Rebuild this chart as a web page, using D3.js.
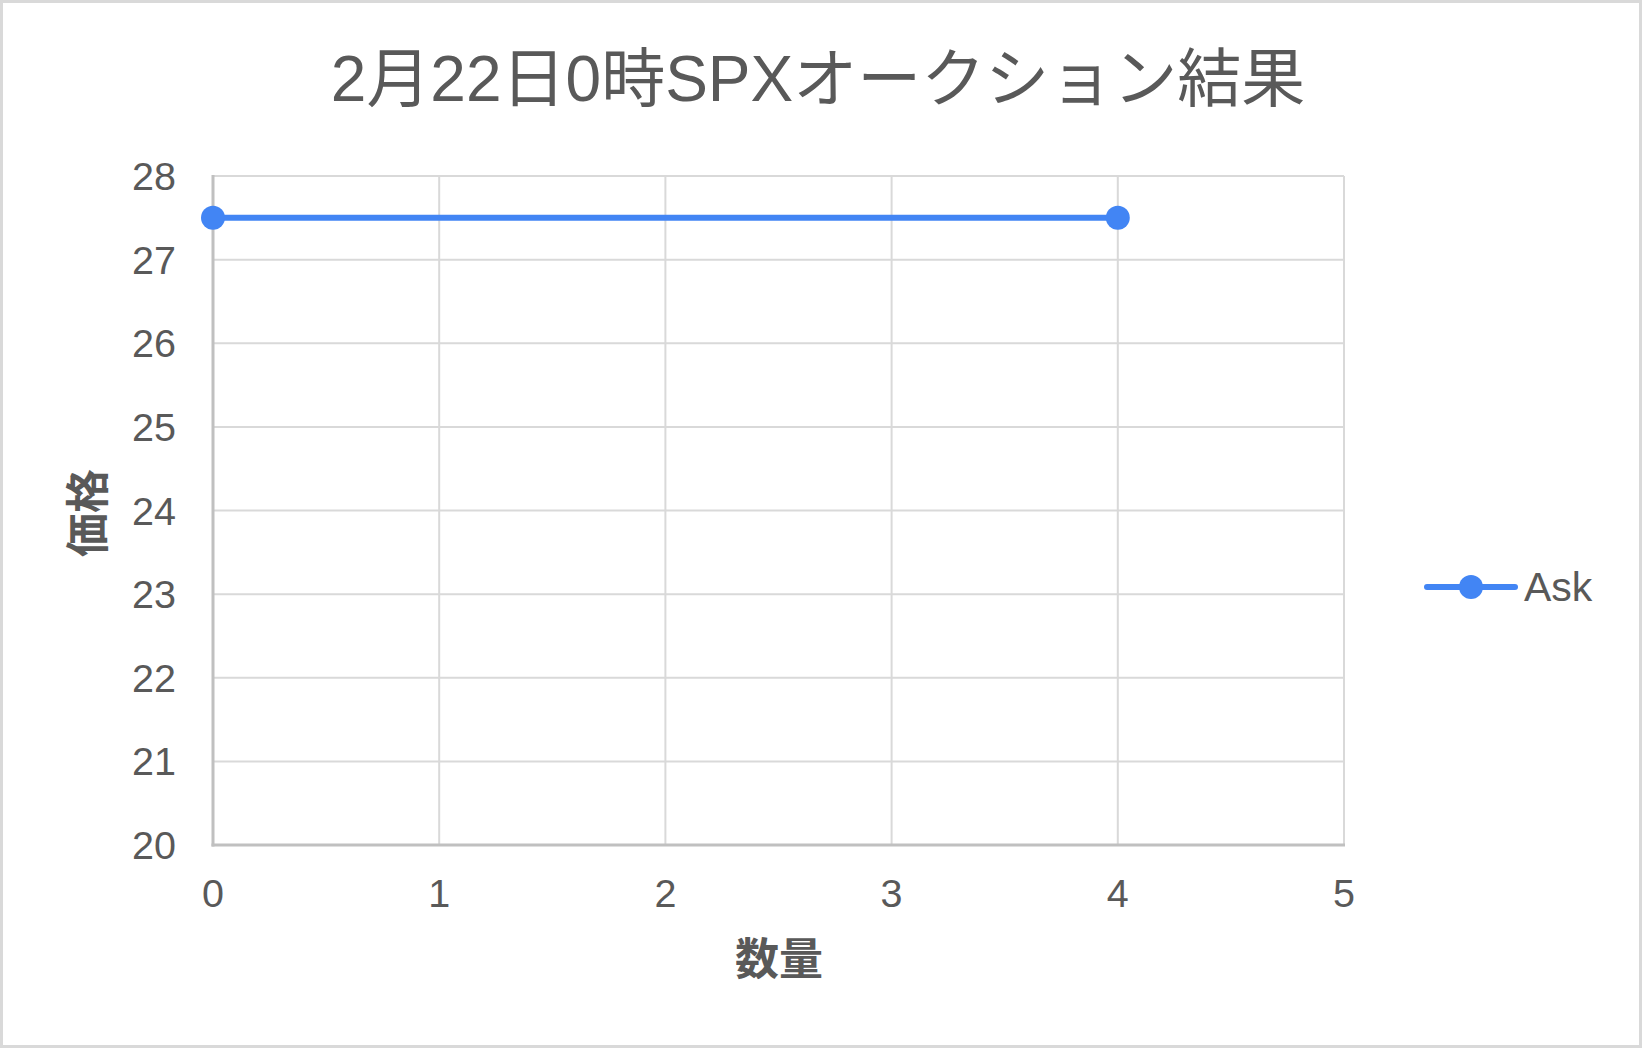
<!DOCTYPE html>
<html><head><meta charset="utf-8">
<script src="https://cdn.jsdelivr.net/npm/d3@7"></script>
<style>
html,body{margin:0;padding:0;background:#fff;}
svg{display:block;}
text{font-family:"Liberation Sans",Arial,"Noto Sans CJK JP",sans-serif;fill:#595959;}
</style></head>
<body>
<script>
const title = "2月22日0時SPXオークション結果";
const seriesName = "Ask";
const xValues = [0, 4];
const askValues = [27.5, 27.5];
const xTicks = [0, 1, 2, 3, 4, 5];
const yTicks = [20, 21, 22, 23, 24, 25, 26, 27, 28];
const xTitle = "数量";
const yTitle = "価格";

const W = 1642, H = 1048;
const svg = d3.select("body").append("svg").attr("width", W).attr("height", H);
svg.append("rect").attr("x",1.5).attr("y",1.5).attr("width",W-3).attr("height",H-3)
  .attr("fill","#fff").attr("stroke","#d9d9d9").attr("stroke-width",3);

const L = 213, R = 1344, T = 176, B = 845;
const x = d3.scaleLinear().domain([0,5]).range([L,R]);
const y = d3.scaleLinear().domain([20,28]).range([B,T]);

const g = svg.append("g");
g.selectAll(".hg").data(yTicks.slice(1)).join("line")
  .attr("x1",L).attr("x2",R).attr("y1",d=>y(d)).attr("y2",d=>y(d))
  .attr("stroke","#d9d9d9").attr("stroke-width",2);
g.selectAll(".vg").data(xTicks.slice(1)).join("line")
  .attr("y1",T).attr("y2",B).attr("x1",d=>x(d)).attr("x2",d=>x(d))
  .attr("stroke","#d9d9d9").attr("stroke-width",2);
g.append("line").attr("x1",L).attr("x2",L).attr("y1",T-1).attr("y2",B+1.5).attr("stroke","#c0c0c0").attr("stroke-width",3);
g.append("line").attr("x1",L-1.5).attr("x2",R+1).attr("y1",B).attr("y2",B).attr("stroke","#c0c0c0").attr("stroke-width",3);

svg.selectAll(".yl").data(yTicks).join("text")
  .attr("x",176).attr("y",d=>y(d)+14).attr("text-anchor","end")
  .attr("font-size",39.5).text(d=>d);
svg.selectAll(".xl").data(xTicks).join("text")
  .attr("x",d=>x(d)).attr("y",907).attr("text-anchor","middle")
  .attr("font-size",39.5).text(d=>d);

const pts = xValues.map((v,i)=>[v, askValues[i]]);
svg.append("path").datum(pts)
  .attr("d", d3.line().x(d=>x(d[0])).y(d=>y(d[1])))
  .attr("fill","none").attr("stroke","#4285f4").attr("stroke-width",6).attr("stroke-linecap","round");
svg.selectAll(".pt").data(pts).join("circle")
  .attr("cx",d=>x(d[0])).attr("cy",d=>y(d[1])).attr("r",12).attr("fill","#4285f4");

svg.append("text").attr("x",818).attr("y",101).attr("text-anchor","middle")
  .attr("font-size",64).text(title);
svg.append("text").attr("x",779).attr("y",975).attr("text-anchor","middle")
  .attr("font-size",44).attr("font-weight","bold").text(xTitle);
svg.append("text").attr("transform","translate(104,513) rotate(-90)").attr("text-anchor","middle")
  .attr("font-size",44).attr("font-weight","bold").text(yTitle);

const lg = svg.append("g");
lg.append("line").attr("x1",1427).attr("x2",1515).attr("y1",587).attr("y2",587)
  .attr("stroke","#4285f4").attr("stroke-width",6).attr("stroke-linecap","round");
lg.append("circle").attr("cx",1471).attr("cy",587).attr("r",12).attr("fill","#4285f4");
lg.append("text").attr("x",1524).attr("y",601).attr("font-size",41).text(seriesName);
</script>
</body></html>
